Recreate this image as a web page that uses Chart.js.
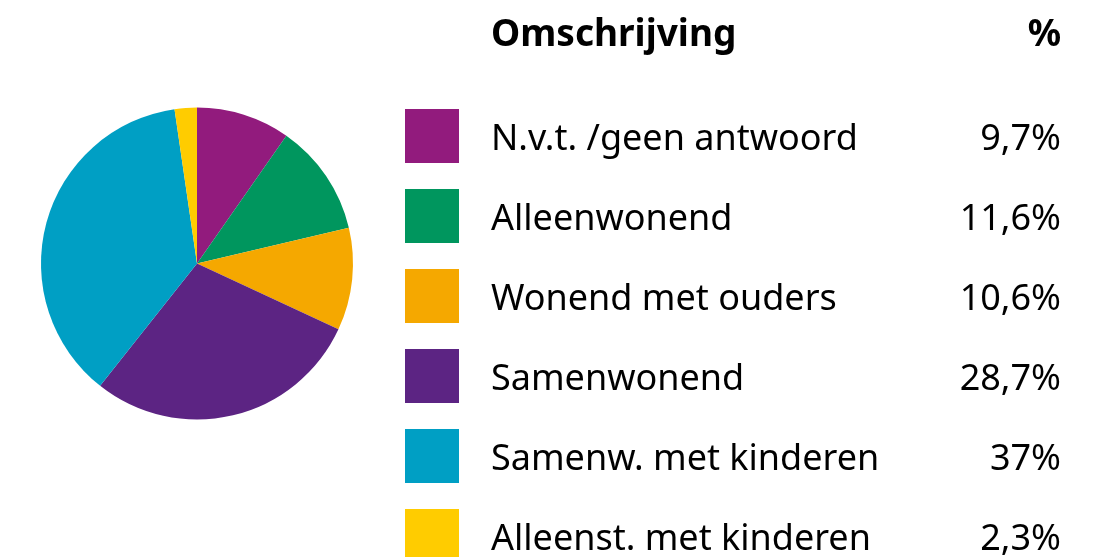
<!DOCTYPE html>
<html>
<head>
<meta charset="utf-8">
<script src="https://cdn.jsdelivr.net/npm/chart.js@4/dist/chart.umd.min.js"></script>
<style>
    body { margin: 0; background: #fff; }
    #wrap { width: 1111px; height: 557px; }
</style>
</head>
<body>
<div id="wrap"><canvas id="pie-chart"></canvas></div>
<script>
const categories = [
    'N.v.t. /geen antwoord',
    'Alleenwonend',
    'Wonend met ouders',
    'Samenwonend',
    'Samenw. met kinderen',
    'Alleenst. met kinderen'
];
const values = [9.7, 11.6, 10.6, 28.7, 37, 2.3];
const valueLabels = ['9,7%', '11,6%', '10,6%', '28,7%', '37%', '2,3%'];
const colors = ['#921b7d', '#00965e', '#f5a800', '#5c2483', '#009fc4', '#ffcc00'];

const FONT = '"Noto Sans", sans-serif';

// draws the table legend on the right
const tableLegend = {
    id: 'tableLegend',
    afterDraw(chart) {
        const c = chart.ctx;
        const labelX = 491, rightX = 1061, swX = 405, swSize = 54;
        c.save();
        c.fillStyle = '#000';
        c.textBaseline = 'alphabetic';
        c.font = 'bold 37px ' + FONT;
        c.textAlign = 'left';
        c.fillText('Omschrijving', labelX, 46);
        c.textAlign = 'right';
        c.fillText('%', rightX, 46);

        c.font = '36px ' + FONT;
        chart.data.labels.forEach((label, i) => {
            const top = 109 + i * 80;
            c.fillStyle = chart.data.datasets[0].backgroundColor[i];
            c.fillRect(swX, top, swSize, swSize);
            c.fillStyle = '#000';
            c.textAlign = 'left';
            c.fillText(label, labelX, top + 41);
            c.textAlign = 'right';
            c.fillText(valueLabels[i], rightX, top + 41);
        });
        c.restore();
    }
};

new Chart(document.getElementById('pie-chart'), {
    type: 'pie',
    data: {
        labels: categories,
        datasets: [{
            data: values,
            backgroundColor: colors,
            borderWidth: 0
        }]
    },
    options: {
        responsive: true,
        maintainAspectRatio: false,
        animation: false,
        layout: {
            padding: { left: 41, top: 107, right: 758, bottom: 137 }
        },
        plugins: {
            legend: { display: false },
            tooltip: { enabled: false }
        }
    },
    plugins: [tableLegend]
});
</script>
</body>
</html>
